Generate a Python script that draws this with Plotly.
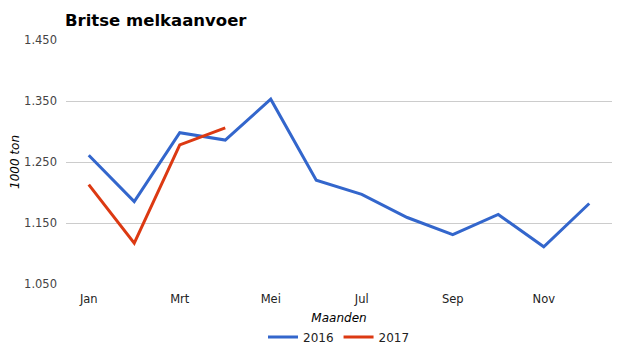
import plotly.graph_objects as go

months = ["Jan", "Feb", "Mrt", "Apr", "Mei", "Jun", "Jul", "Aug", "Sep", "Okt", "Nov", "Dec"]
tick_months = ["Jan", "Mrt", "Mei", "Jul", "Sep", "Nov"]
values_2016 = [1261, 1185, 1298, 1286, 1353, 1220, 1197, 1159, 1131, 1164, 1111, 1182]
values_2017 = [1213, 1117, 1278, 1306]
y_ticks = [1050, 1150, 1250, 1350, 1450]
y_ticktext = ["1.050", "1.150", "1.250", "1.350", "1.450"]

font = "DejaVu Sans"

# page body has an 8px default margin; figure sized to fill the rest of the window
W, H = 617, 347

fig = go.Figure()
fig.add_trace(go.Scatter(x=months, y=values_2016, mode="lines", name="2016",
                         line=dict(color="#3366CC", width=3)))
fig.add_trace(go.Scatter(x=months[:len(values_2017)], y=values_2017, mode="lines", name="2017",
                         line=dict(color="#DC3912", width=3)))

fig.update_layout(
    width=W, height=H,
    margin=dict(l=58, r=13, t=32, b=71, autoexpand=False),
    paper_bgcolor="white", plot_bgcolor="white",
    font=dict(family=font, size=12, color="#222"),
    title=dict(text="<b>Britse melkaanvoer</b>", x=57/W, xanchor="left",
               y=1 - 12/H, yanchor="middle", font=dict(size=16.5, color="#000")),
    showlegend=True,
    legend=dict(orientation="h", x=0.5, xanchor="center", y=-53/244, yanchor="middle",
                font=dict(size=12, color="#222"), itemwidth=30),
    xaxis=dict(type="category", categoryorder="array", categoryarray=months,
               range=[-0.5, 11.5], tickmode="array", tickvals=tick_months,
               ticktext=tick_months, showgrid=False, zeroline=False, showline=False,
               ticks="", tickfont=dict(size=11.5, color="#222"), automargin=False,
               ticklabelstandoff=6,
               title=dict(text="<i>Maanden</i>", font=dict(size=12, color="#000"), standoff=9)),
    yaxis=dict(range=[1050, 1450], tickmode="array", tickvals=y_ticks, ticktext=y_ticktext,
               showgrid=True, gridcolor="#cccccc", gridwidth=1, zeroline=False,
               showline=False, ticks="", tickfont=dict(size=11.5, color="#444"),
               ticklabelstandoff=8, automargin=False,
               title=dict(text="<i>1000 ton</i>", font=dict(size=12, color="#000"), standoff=8)),
)

fig.write_html("out.html")
